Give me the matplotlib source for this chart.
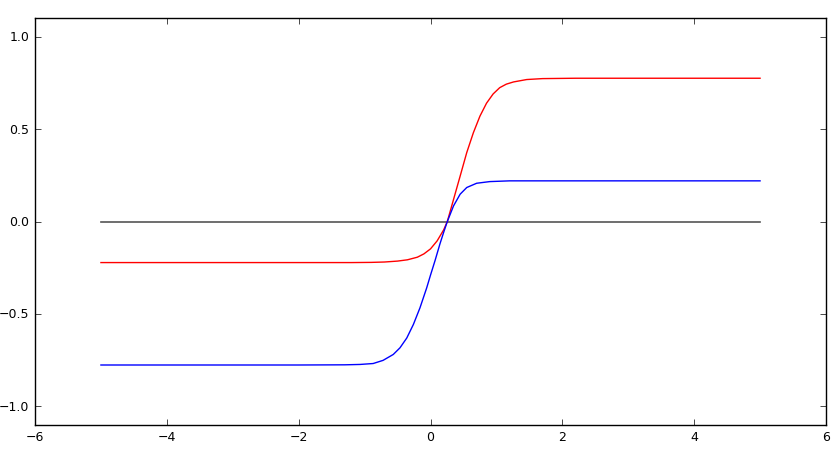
import numpy as np
import matplotlib
matplotlib.use("Agg")
import matplotlib.pyplot as plt

plt.style.use("classic")

# values
red_x = [-5, -2, -1.2, -0.9, -0.7, -0.5, -0.35, -0.2, -0.1, 0.0, 0.1, 0.2,
         0.255, 0.35, 0.45, 0.55, 0.65, 0.75, 0.85, 0.95, 1.05, 1.15, 1.26,
         1.46, 1.7, 2.2, 5]
red_y = [-0.222, -0.222, -0.222, -0.221, -0.219, -0.214, -0.207, -0.193,
         -0.175, -0.148, -0.105, -0.045, 0.0, 0.12, 0.246, 0.373, 0.48, 0.57,
         0.64, 0.69, 0.724, 0.743, 0.755, 0.768, 0.773, 0.775, 0.775]

blue_x = [-5, -2, -1.3, -1.07, -0.87, -0.72, -0.565, -0.463, -0.36, -0.26,
          -0.16, -0.058, 0.0, 0.07, 0.144, 0.2, 0.255, 0.35, 0.45, 0.55, 0.7,
          0.9, 1.2, 5]
blue_y = [-0.776, -0.776, -0.775, -0.773, -0.768, -0.751, -0.719, -0.683,
          -0.63, -0.557, -0.467, -0.359, -0.29, -0.21, -0.12, -0.058, 0.0,
          0.085, 0.148, 0.184, 0.207, 0.216, 0.22, 0.22]

zero_x = [-5, 5]
zero_y = [0, 0]

fig = plt.figure(figsize=(8.4, 4.56), dpi=100, facecolor="white")
ax = fig.add_axes([0.0417, 0.066, 0.9416, 0.892])

ax.plot(zero_x, zero_y, color="#555555", linewidth=1.2)
ax.plot(red_x, red_y, color="r", linewidth=1.0)
ax.plot(blue_x, blue_y, color="b", linewidth=1.0)

ax.set_xlim(-6, 6)
ax.set_ylim(-1.1, 1.1)
ax.set_yticks([-1.0, -0.5, 0.0, 0.5, 1.0])
ax.tick_params(labelsize=9)

fig.savefig("out.png", dpi=100, facecolor="white")
